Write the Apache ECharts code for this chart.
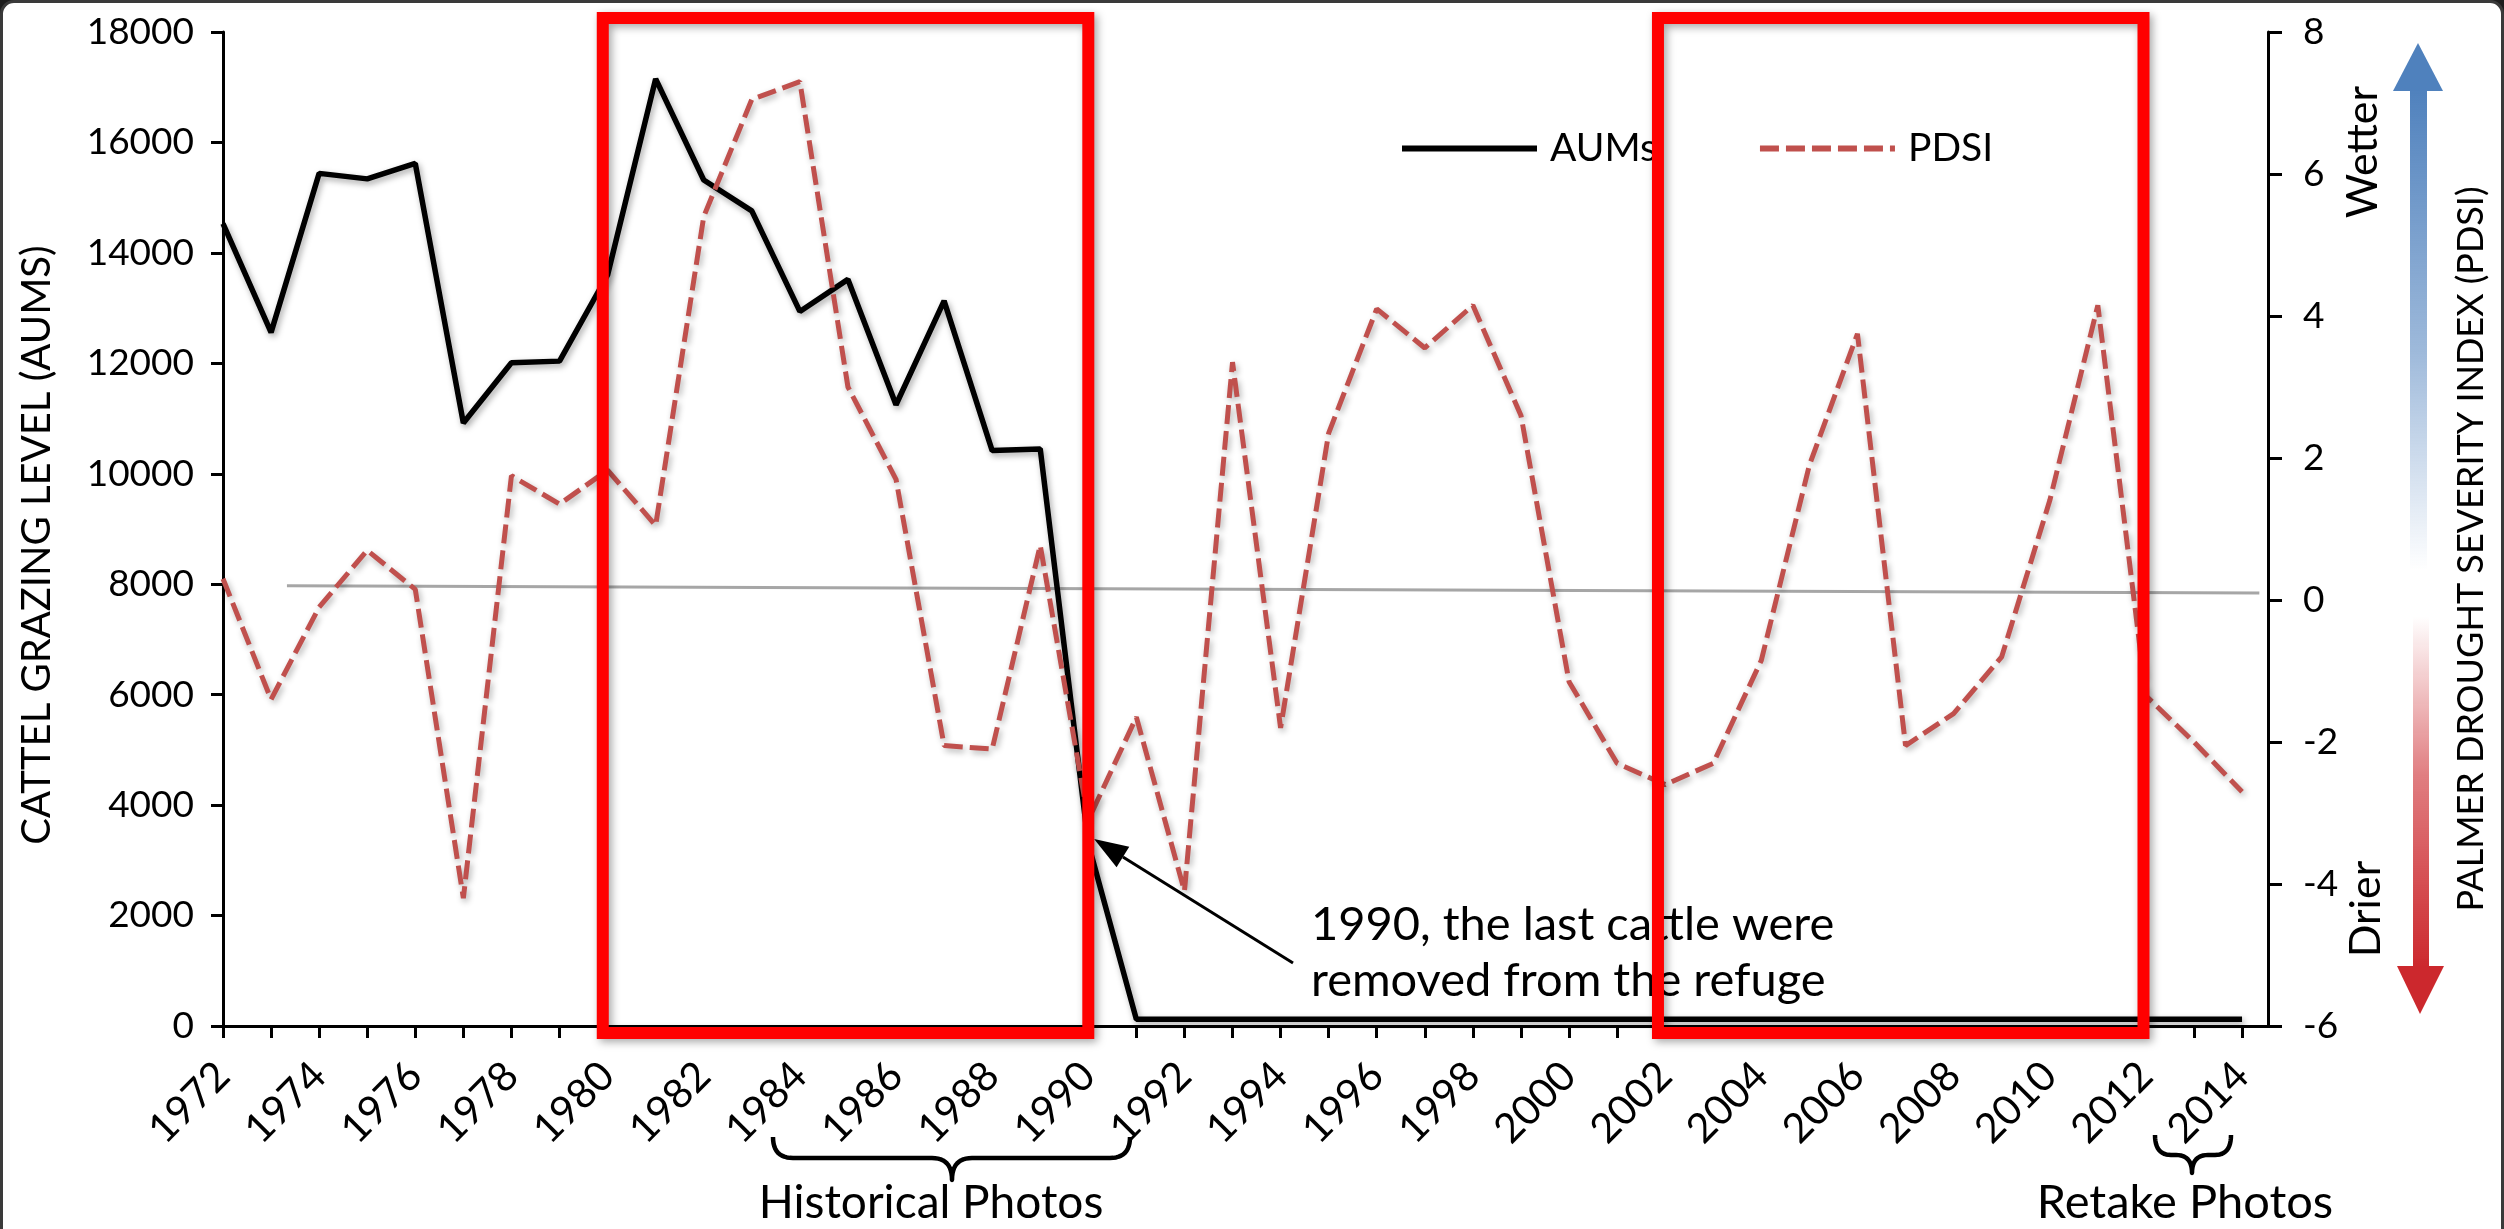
<!DOCTYPE html>
<html><head><meta charset="utf-8">
<script src="https://cdn.jsdelivr.net/npm/echarts@6/dist/echarts.min.js"></script>
<style>
html,body{margin:0;padding:0;background:#1e1e1e;overflow:hidden;}
#frame{position:absolute;left:0;top:0;width:2498px;height:1260px;background:#fff;border:3px solid #3a3a3a;border-radius:14px;}
#c{position:absolute;left:0;top:0;width:2504px;height:1229px;}
</style>
</head><body><div id="frame"></div><div id="c"></div>
<script>
// ---- data ----
const years = [1972,1973,1974,1975,1976,1977,1978,1979,1980,1981,1982,1983,1984,1985,1986,1987,1988,1989,1990,1991,1992,1993,1994,1995,1996,1997,1998,1999,2000,2001,2002,2003,2004,2005,2006,2007,2008,2009,2010,2011,2012,2013,2014];
const aums = [14530,12560,15440,15340,15620,10920,12010,12040,13600,17150,15320,14760,12940,13520,11250,13130,10420,10450,3300,120,120,120,120,120,120,120,120,120,120,120,120,120,120,120,120,120,120,120,120,120,120,120,120];
const pdsi = [0.3,-1.4,-0.1,0.7,0.15,-4.2,1.75,1.35,1.83,1.05,5.4,7.05,7.3,3.0,1.7,-2.05,-2.1,0.77,-3.1,-1.65,-4.1,3.35,-1.8,2.35,4.1,3.55,4.15,2.6,-1.15,-2.3,-2.6,-2.3,-0.85,1.9,3.75,-2.05,-1.6,-0.8,1.4,4.15,-1.35,-2.0,-2.7];
const xLabelYears = [1972,1974,1976,1978,1980,1982,1984,1986,1988,1990,1992,1994,1996,1998,2000,2002,2004,2006,2008,2010,2012,2014];
const trendYears = [1973.33, 2014.36];
const trendPdsi = [0.2, 0.1];
const boxYears = [[1979.9, 1990.0], [2001.85, 2011.95]];
const boxAums = [-127, 18255];
const arrowTip = [1990.12, 3385];

const FONT = 'Lato';
const chart = echarts.init(document.getElementById('c'), null, {renderer:'canvas'});
const fmt = v => String(v);

chart.setOption({
  backgroundColor: 'transparent',
  animation: false,
  grid: {left: 223, top: 32, width: 2045, height: 994, outerBoundsMode: 'none', containLabel: false},
  legend: {
    data: ['AUMs','PDSI'], left: 1394, top: 124, itemWidth: 135, itemHeight: 20, itemGap: 100,
    itemStyle: {opacity: 0},
    lineStyle: {width: 6},
    textStyle: {fontFamily: FONT, fontSize: 39, color: '#000', padding: [0,0,0,8]}
  },
  xAxis: {
    type: 'value', min: 1972, max: 2014.54,
    axisLine: {onZero: false, lineStyle: {color: '#000', width: 3}},
    axisTick: {show: true, length: 12, lineStyle: {color: '#000', width: 3}, customValues: years},
    axisLabel: {rotate: 45, margin: 43, align: 'right', verticalAlign: 'middle',
                fontFamily: FONT, fontSize: 41, color: '#000', customValues: xLabelYears, formatter: fmt},
    splitLine: {show: false}
  },
  yAxis: [
    {type: 'value', min: 0, max: 18000, interval: 2000, position: 'left',
     axisLine: {show: true, onZero: false, lineStyle: {color: '#000', width: 3}},
     axisTick: {show: true, length: 12, lineStyle: {color: '#000', width: 3}},
     axisLabel: {margin: 29, fontFamily: FONT, fontSize: 37, color: '#000', formatter: fmt},
     splitLine: {show: false}},
    {type: 'value', min: -6, max: 8, interval: 2, position: 'right',
     axisLine: {show: true, onZero: false, lineStyle: {color: '#000', width: 3}},
     axisTick: {show: true, length: 14, lineStyle: {color: '#000', width: 3}},
     axisLabel: {margin: 35, fontFamily: FONT, fontSize: 37, color: '#000', formatter: fmt},
     splitLine: {show: false}}
  ],
  series: [
    {name: 'Trend', type: 'line', yAxisIndex: 1, symbol: 'none', silent: true, z: 1,
     data: trendYears.map((y,i) => [y, trendPdsi[i]]),
     lineStyle: {color: '#A6A6A6', width: 3}},
    {name: 'AUMs', type: 'line', yAxisIndex: 0, symbol: 'none', z: 3,
     data: years.map((y,i) => [y, aums[i]]),
     itemStyle: {color: '#000'},
     lineStyle: {color: '#000', width: 5.5, shadowColor: 'rgba(0,0,0,0.35)', shadowBlur: 6, shadowOffsetX: 2, shadowOffsetY: 3}},
    {name: 'PDSI', type: 'line', yAxisIndex: 1, symbol: 'none', z: 4,
     data: years.map((y,i) => [y, pdsi[i]]),
     itemStyle: {color: '#C0504D'},
     lineStyle: {color: '#C0504D', width: 5, type: [19, 7], shadowColor: 'rgba(0,0,0,0.3)', shadowBlur: 6, shadowOffsetX: 2, shadowOffsetY: 3}}
  ]
});

const px = (x, y) => chart.convertToPixel({xAxisIndex: 0, yAxisIndex: 0}, [x, y]);
const txt = (text, x, y, size, rot, align) => ({
  type: 'text', x: x, y: y, rotation: rot || 0, z: 50,
  style: {text: text, fontFamily: FONT, fontSize: size, fill: '#000',
          align: align || 'center', textAlign: align || 'center', verticalAlign: 'middle', textVerticalAlign: 'middle'}
});

// curly brace (opening upward) as a sampled polyline
function quad(p0, p1, p2, n) {
  const out = [];
  for (let i = 0; i <= n; i++) {
    const t = i / n, a = (1 - t) * (1 - t), b = 2 * t * (1 - t), c = t * t;
    out.push([a * p0[0] + b * p1[0] + c * p2[0], a * p0[1] + b * p1[1] + c * p2[1]]);
  }
  return out;
}
function brace(x1, x2, cx, yTop, yMid, yTip, r) {
  let pts = [];
  pts = pts.concat(quad([x1, yTop], [x1, yMid], [x1 + r, yMid], 12));
  pts = pts.concat(quad([cx - r, yMid], [cx, yMid], [cx, yTip], 12));
  pts = pts.concat(quad([cx, yTip], [cx, yMid], [cx + r, yMid], 12));
  pts = pts.concat(quad([x2 - r, yMid], [x2, yMid], [x2, yTop], 12));
  return {type: 'polyline', z: 50, shape: {points: pts}, style: {fill: 'none', stroke: '#000', lineWidth: 4.5, lineJoin: 'round'}};
}

const graphics = [];
// axis titles
graphics.push(txt('CATTEL GRAZING LEVEL (AUMS)', 37, 545, 40, Math.PI/2));
graphics.push(txt('PALMER DROUGHT SEVERITY INDEX (PDSI)', 2471, 549, 36, Math.PI/2));
graphics.push(txt('Wetter', 2363, 152, 43, Math.PI/2));
graphics.push(txt('Drier', 2366, 909, 43, Math.PI/2));

// wet / dry arrows
graphics.push({type: 'rect', z: 40, shape: {x: 2410, y: 88, width: 17, height: 482},
  style: {fill: {type: 'linear', x: 0, y: 0, x2: 0, y2: 1, colorStops: [
    {offset: 0, color: 'rgba(79,129,189,1)'}, {offset: 0.55, color: 'rgba(79,129,189,0.55)'}, {offset: 1, color: 'rgba(79,129,189,0)'}]}}});
graphics.push({type: 'polygon', z: 40, shape: {points: [[2393,91],[2443,91],[2418,43]]}, style: {fill: '#4F81BD'}});
graphics.push({type: 'rect', z: 40, shape: {x: 2413, y: 616, width: 16, height: 352},
  style: {fill: {type: 'linear', x: 0, y: 0, x2: 0, y2: 1, colorStops: [
    {offset: 0, color: 'rgba(204,40,45,0)'}, {offset: 0.45, color: 'rgba(204,40,45,0.6)'}, {offset: 1, color: 'rgba(204,40,45,1)'}]}}});
graphics.push({type: 'polygon', z: 40, shape: {points: [[2397,966],[2444,966],[2420,1014]]}, style: {fill: '#CC282D'}});

// annotation
graphics.push(txt('1990, the last cattle were', 1311, 925, 47, 0, 'left'));
graphics.push(txt('removed from the refuge', 1311, 981, 47, 0, 'left'));
const tip = px(arrowTip[0], arrowTip[1]);
const start = [1293, 963];
const ang = Math.atan2(start[1] - tip[1], start[0] - tip[0]);
const hl = 34, hw = 12;
const bx = tip[0] + hl * Math.cos(ang), by = tip[1] + hl * Math.sin(ang);
graphics.push({type: 'line', z: 50, shape: {x1: start[0], y1: start[1], x2: bx, y2: by}, style: {stroke: '#000', lineWidth: 3}});
graphics.push({type: 'polygon', z: 50, shape: {points: [
  [tip[0], tip[1]],
  [bx + hw * Math.sin(ang), by - hw * Math.cos(ang)],
  [bx - hw * Math.sin(ang), by + hw * Math.cos(ang)]]}, style: {fill: '#000'}});

// braces and their captions
graphics.push(brace(773, 1130, 952, 1137, 1158, 1180, 20));
graphics.push(brace(2155, 2231, 2192, 1135, 1155, 1173, 16));
graphics.push(txt('Historical Photos', 931, 1203, 46));
graphics.push(txt('Retake Photos', 2185, 1203, 47));

// red highlight boxes
boxYears.forEach(b => {
  const p1 = px(b[0], boxAums[1]);
  const p2 = px(b[1], boxAums[0]);
  graphics.push({type: 'rect', z: 100, shape: {x: p1[0], y: p1[1], width: p2[0] - p1[0], height: p2[1] - p1[1]},
    style: {fill: 'none', stroke: '#FF0000', lineWidth: 12, shadowColor: 'rgba(0,0,0,0.35)', shadowBlur: 8, shadowOffsetX: 3, shadowOffsetY: 3}});
});

chart.setOption({graphic: graphics});
</script>
</body></html>
